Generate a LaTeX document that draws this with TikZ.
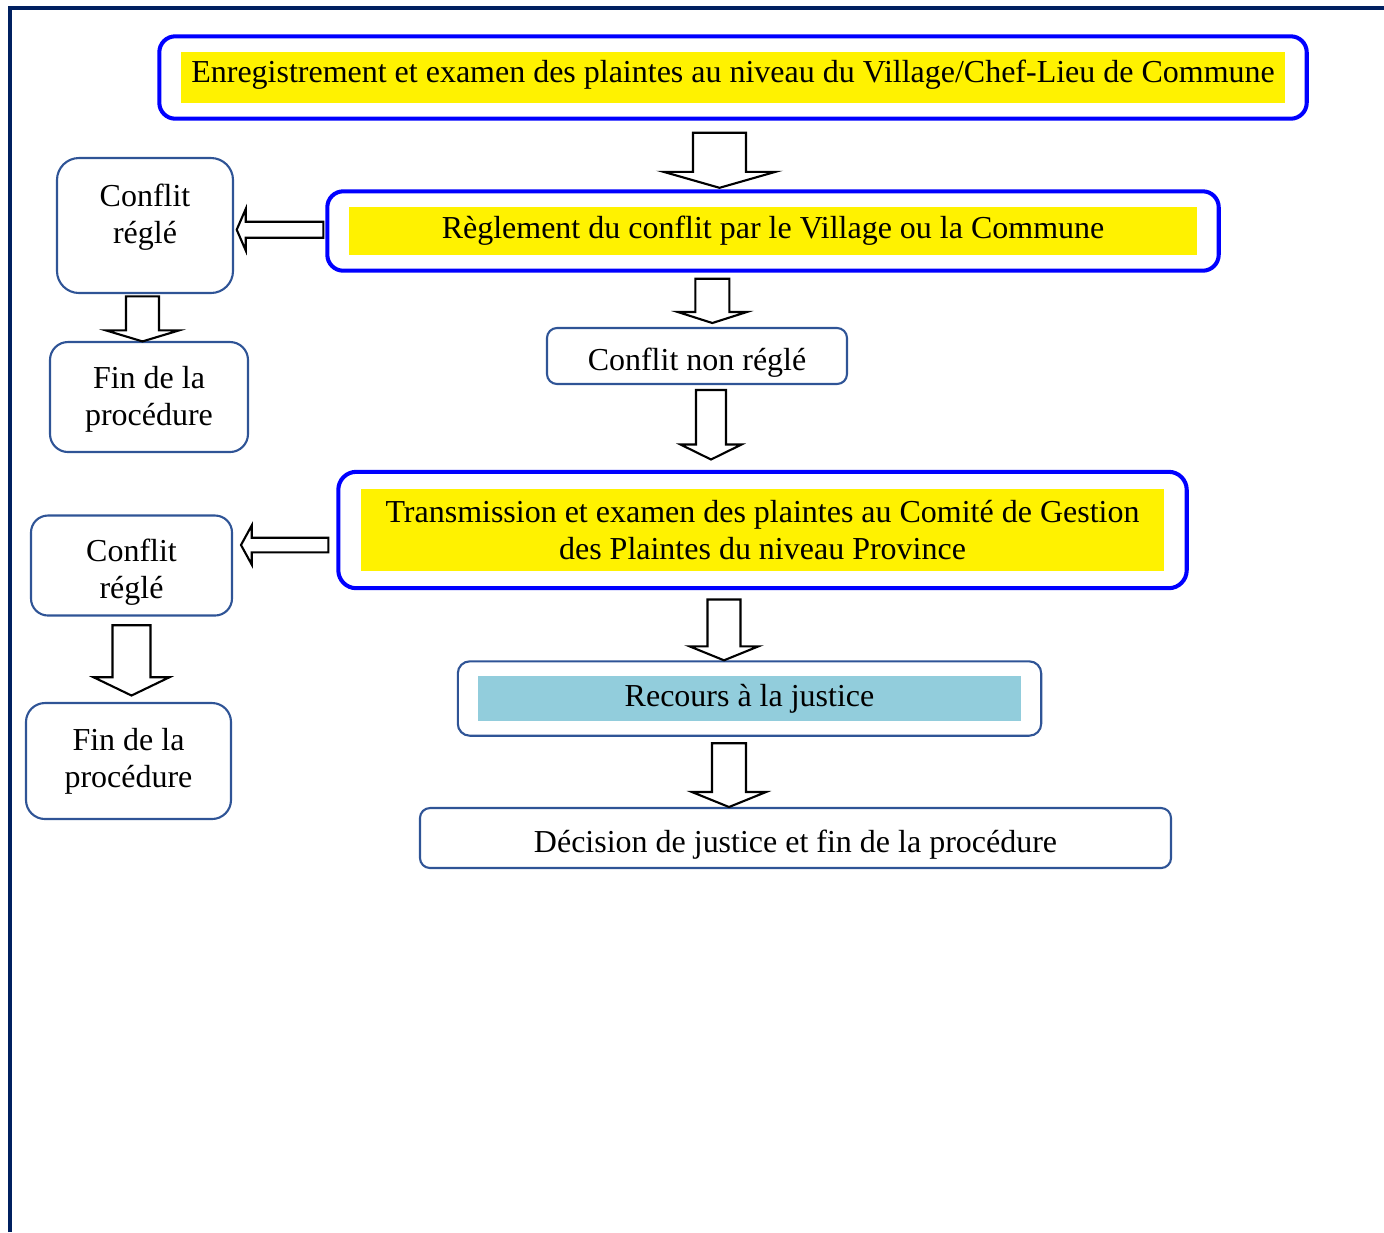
\documentclass[tikz,border=0pt]{standalone}
\usepackage{fontspec}
\setmainfont{Liberation Serif}
\usetikzlibrary{calc,fit}

\definecolor{framenavy}{HTML}{002060}
\definecolor{boxblue}{HTML}{0000FF}
\definecolor{edgeblue}{HTML}{2F5496}
\definecolor{lightteal}{HTML}{92CDDC}

\tikzset{
  arrshaft/.store in=\arrshaft, arrhead/.store in=\arrhead, arrlen/.store in=\arrlen,
  arrshaft=1.7mm, arrhead=3.5mm, arrlen=1.5mm
}

\begin{document}
\begin{tikzpicture}[
  font=\fontsize{9.1}{10.5}\selectfont,
  yelbox/.style={fill=yellow, inner sep=0pt, align=center},
  bluebox/.style={draw=boxblue, line width=1.15pt, rounded corners=1.6mm, outer sep=0pt,
    inner xsep=2.1mm, inner ysep=1.5mm},
  softbox/.style={draw=edgeblue, line width=0.6pt, align=center, inner sep=0pt, outer sep=0pt},
  boxtext/.style={align=center, inner sep=0pt},
  dnarr/.style={draw, fill=white, line width=0.6pt,
    to path={let \p1=(\tikztostart), \p2=(\tikztotarget) in
      (\x1-\arrshaft,\y1) -- (\x1-\arrshaft,\y2+\arrlen) -- (\x1-\arrhead,\y2+\arrlen)
      -- (\x1,\y2) -- (\x1+\arrhead,\y2+\arrlen) -- (\x1+\arrshaft,\y2+\arrlen)
      -- (\x1+\arrshaft,\y1) -- cycle}},
  lfarr/.style={draw, fill=white, line width=0.6pt,
    to path={let \p1=(\tikztostart), \p2=(\tikztotarget) in
      (\x1,\y1-\arrshaft) -- (\x2+\arrlen,\y1-\arrshaft) -- (\x2+\arrlen,\y1-\arrhead)
      -- (\x2,\y1) -- (\x2+\arrlen,\y1+\arrhead) -- (\x2+\arrlen,\y1+\arrshaft)
      -- (\x1,\y1+\arrshaft) -- cycle}}
]
\useasboundingbox (0,0) rectangle (13.84,-12.32);

\draw[framenavy, line width=0.4mm] (0.10,-12.32) |- (13.84,-0.08);

% main column
\node[yelbox, minimum width=11.04cm, minimum height=0.51cm, text depth=3.7pt] (t1) at (7.33,-0.775)
  {Enregistrement et examen des plaintes au niveau du Village/Chef-Lieu de Commune};
\node[bluebox, fit=(t1)] (b1) {};

\node[yelbox, minimum width=8.48cm, minimum height=0.48cm] (t2) at (7.73,-2.31)
  {Règlement du conflit par le Village ou la Commune};
\node[bluebox, fit=(t2)] (b2) {};

\node[softbox, minimum width=3.00cm, minimum height=0.56cm, rounded corners=1mm,
  text height=10.2pt, text depth=2pt] (n1) at (6.97,-3.56) {Conflit non réglé};

\node[yelbox, minimum width=8.03cm, minimum height=0.82cm] (t3) at (7.625,-5.30)
  {Transmission et examen des plaintes au Comité de Gestion\\des Plaintes du niveau Province};
\node[bluebox, fit=(t3), inner xsep=2.2mm, inner ysep=1.65mm, rounded corners=1.8mm] (b3) {};

\node[yelbox, fill=lightteal, minimum width=5.43cm, minimum height=0.45cm] (t4) at (7.495,-6.985)
  {Recours à la justice};
\node[softbox, fit=(t4), inner xsep=1.95mm, inner ysep=1.4mm, rounded corners=1.2mm] (r1) {};

\node[softbox, minimum width=7.51cm, minimum height=0.60cm, rounded corners=1mm,
  text height=10.2pt, text depth=2pt] (d1) at (7.955,-8.38) {Décision de justice et fin de la procédure};

% left column
\node[softbox, minimum width=1.76cm, minimum height=1.35cm, rounded corners=2.2mm] (c1)
  at (1.45,-2.255) {};
\node[boxtext] (c1t) at ([yshift=0.8mm]c1.center) {Conflit\\réglé};
\node[softbox, minimum width=1.98cm, minimum height=1.10cm, rounded corners=1.8mm] (f1)
  at (1.49,-3.97) {};
\node[boxtext] (f1t) at ([yshift=-0.25mm]f1.center) {Fin de la\\procédure};

\node[softbox, minimum width=2.01cm, minimum height=1.00cm, rounded corners=1.7mm] (c2)
  at (1.315,-5.655) {};
\node[boxtext] (c2t) at ([yshift=-0.7mm]c2.center) {Conflit\\réglé};
\node[softbox, minimum width=2.05cm, minimum height=1.16cm, rounded corners=1.9mm] (f2)
  at (1.285,-7.61) {};
\node[boxtext] (f2t) at (f2.center) {Fin de la\\procédure};

% block arrows
\draw[dnarr, arrshaft=2.65mm, arrhead=5.6mm, arrlen=1.6mm]
  ($(b1.south)+(-0.135,-0.14)$) to ($(b2.north)+(0,0.035)$);
\draw[dnarr, arrshaft=1.7mm, arrhead=3.45mm, arrlen=1.1mm]
  ($(b2.south)+(-0.607,-0.08)$) to ($(n1.north)+(0,0.05)$);
\draw[dnarr, arrshaft=1.5mm, arrhead=3.05mm, arrlen=1.5mm]
  ($(n1.south)+(0.14,-0.06)$) to ($(b3.north)+(0,0.123)$);
\draw[dnarr, arrshaft=1.65mm, arrhead=3.45mm, arrlen=1.4mm]
  ($(b3.south)+(-0.385,-0.113)$) to ($(r1.north)+(0,0.01)$);
\draw[dnarr, arrshaft=1.7mm, arrhead=3.7mm, arrlen=1.5mm]
  ($(r1.south)+(-0.205,-0.075)$) to ($(d1.north)+(0,0.01)$);

\draw[dnarr, arrshaft=1.65mm, arrhead=3.65mm, arrlen=1.1mm]
  ($(c1.south)+(-0.025,-0.034)$) to ($(f1.north)+(0,0.006)$);
\draw[dnarr, arrshaft=1.9mm, arrhead=3.8mm, arrlen=1.83mm]
  ($(c2.south)+(0,-0.097)$) to ($(f2.north)+(0,0.075)$);

\draw[lfarr, arrshaft=0.8mm, arrhead=2.07mm, arrlen=0.9mm]
  ($(b2.west)+(-0.04,0.013)$) to ($(c1.east)+(0.037,0)$);
\draw[lfarr, arrshaft=0.73mm, arrhead=1.95mm, arrlen=1.07mm]
  ($(b3.west)+(-0.10,-0.15)$) to ($(c2.east)+(0.09,0)$);
\end{tikzpicture}
\end{document}
